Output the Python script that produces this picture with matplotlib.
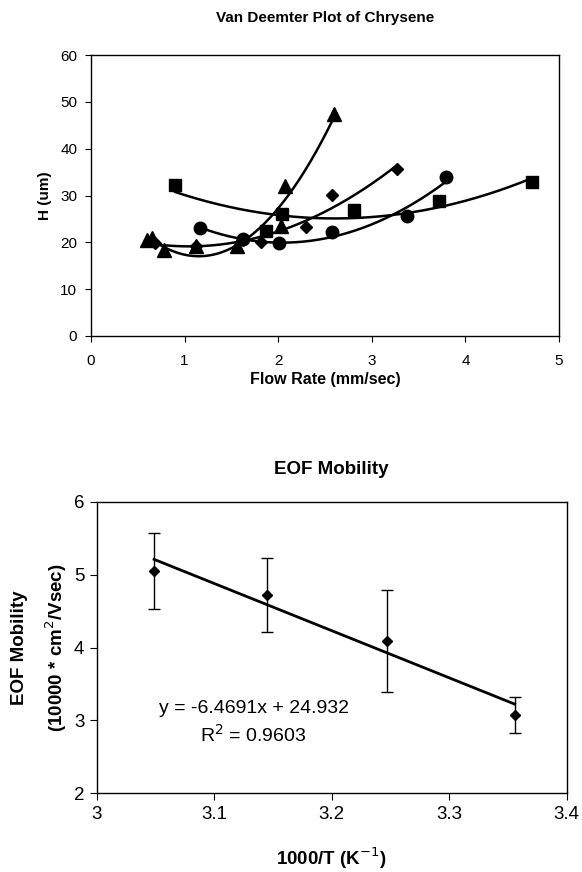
import matplotlib
matplotlib.use("Agg")
import matplotlib.pyplot as plt
import numpy as np

plt.rcParams['font.family'] = ['Liberation Sans', 'DejaVu Sans']

# Van Deemter data (flow rate mm/sec, H um)
tri_x = [0.60, 0.65, 0.78, 1.12, 1.56, 2.03, 2.07, 2.60]
tri_y = [20.5, 21.0, 18.3, 19.3, 19.3, 23.4, 32.0, 47.5]
dia_x = [0.68, 1.12, 1.62, 1.82, 2.30, 2.57, 3.27]
dia_y = [19.8, 19.3, 20.5, 20.0, 23.2, 30.2, 35.7]
cir_x = [1.16, 1.62, 2.01, 2.57, 3.38, 3.79]
cir_y = [23.0, 20.8, 19.8, 22.2, 25.6, 34.0]
sq_x = [0.90, 1.87, 2.04, 2.81, 3.72, 4.71]
sq_y = [32.2, 22.4, 26.0, 26.8, 28.8, 32.8]

# EOF mobility data
inv_T = [3.0488, 3.1447, 3.2468, 3.3557]
mobility = [5.05, 4.72, 4.09, 3.07]
mob_err = [0.52, 0.51, 0.70, 0.245]
slope = -6.4691
intercept = 24.932

fig = plt.figure(figsize=(5.82, 8.72), dpi=100)

# haut : Van Deemter
ax1 = fig.add_axes([0.1564, 0.6147, 0.8041, 0.3222])
series = [(tri_x, tri_y, '^', 9.5), (dia_x, dia_y, 'D', 6.5),
          (cir_x, cir_y, 'o', 9), (sq_x, sq_y, 's', 8.5)]
for xs, ys, m, ms in series:
    coef = np.polyfit(xs, ys, 2)
    xx = np.linspace(min(xs), max(xs), 200)
    ax1.plot(xx, np.polyval(coef, xx), color='black', lw=1.8)
    ax1.plot(xs, ys, m, color='black', ms=ms, ls='none')

ax1.set_xlim(0, 5)
ax1.set_ylim(0, 60)
ax1.set_xticks(range(0, 6))
ax1.set_yticks(range(0, 61, 10))
ax1.tick_params(labelsize=11, length=4, width=0.8, direction='out')
ax1.tick_params(axis='x', pad=9)
ax1.tick_params(axis='y', pad=6)
ax1.set_title("Van Deemter Plot of Chrysene", fontsize=11, fontweight='bold', pad=24)
ax1.set_xlabel("Flow Rate (mm/sec)", fontsize=11.5, fontweight='bold', labelpad=3)
ax1.set_ylabel("H (um)", fontsize=11, fontweight='bold', labelpad=6)
for s in ax1.spines.values():
    s.set_linewidth(1.0)

# bas : EOF Mobility
ax2 = fig.add_axes([0.1662, 0.0902, 0.8076, 0.3345])
ax2.errorbar(inv_T, mobility, yerr=mob_err, fmt='D', color='black', ms=5,
             ecolor='black', elinewidth=1, capsize=4, capthick=1)
xl = np.array([inv_T[0], inv_T[-1]])
ax2.plot(xl, slope * xl + intercept, color='black', lw=2)
ax2.text(3.134, 3.17, "y = -6.4691x + 24.932", fontsize=14, ha='center', va='center')
ax2.text(3.133, 2.80, "R$^2$ = 0.9603", fontsize=14, ha='center', va='center')

ax2.set_xlim(3, 3.4)
ax2.set_ylim(2, 6)
ax2.set_xticks([3, 3.1, 3.2, 3.3, 3.4])
ax2.set_xticklabels(['3', '3.1', '3.2', '3.3', '3.4'])
ax2.set_yticks([2, 3, 4, 5, 6])
ax2.tick_params(labelsize=13.5, length=5, width=0.8, direction='out', pad=4)
ax2.set_title("EOF Mobility", fontsize=13.5, fontweight='bold', pad=20)
ax2.set_xlabel("1000/T (K$^{-1}$)", fontsize=13.5, fontweight='bold', labelpad=16)
ax2.set_ylabel("EOF Mobility\n(10000 * cm$^2$/Vsec)", fontsize=13.5, fontweight='bold',
               linespacing=1.75)
ax2.yaxis.set_label_coords(-0.06, 0.5)
for s in ax2.spines.values():
    s.set_linewidth(1.0)

fig.savefig("out.png", dpi=100)
